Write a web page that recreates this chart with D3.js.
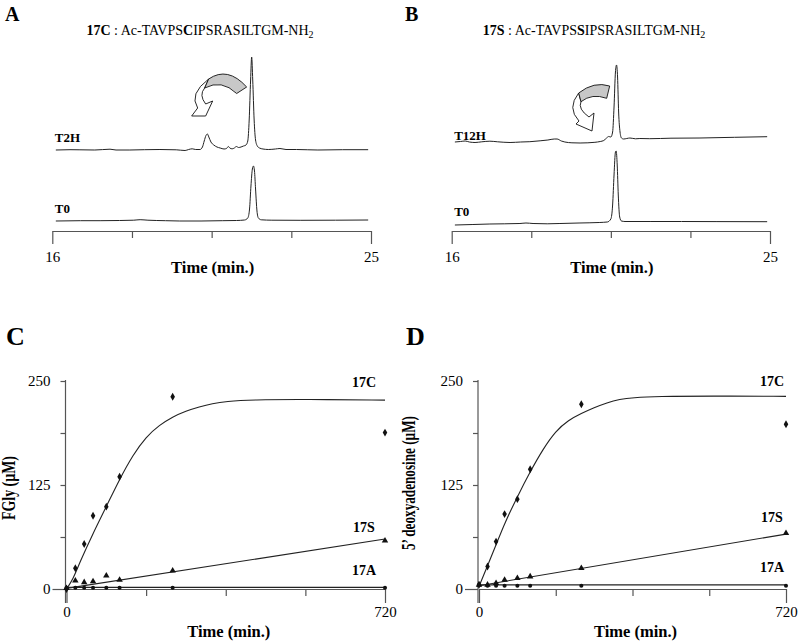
<!DOCTYPE html>
<html><head><meta charset="utf-8">
<script src="https://cdn.jsdelivr.net/npm/d3@7"></script>
<style>
body{margin:0;background:#fff}
svg{display:block}
text{font-family:"Liberation Serif","Times New Roman",serif;fill:#000}
</style>
</head><body>
<svg id="chart" width="800" height="644"></svg>
<script>
// ---------------- DATA ----------------
// HPLC chromatograms: [time (min), signal (a.u.)]
const chromTicks = [16, 18.25, 20.5, 22.75, 25];
const chromTickLabels = ["16", "", "", "", "25"];

const traceA_T2H = [[16.10,0],[16.5,0.3],[16.78,0.2],[17.2,0],[17.63,0.8],[17.8,0],[18.19,0],[18.6,0.3],[19.04,0.5],[19.5,0.2],[19.75,-0.5],[19.85,0.5],[19.95,1.2],[20.05,0.5],[20.17,0.5],[20.24,3],[20.29,9],[20.34,14.5],[20.38,16],[20.42,13],[20.48,8],[20.56,5],[20.65,3],[20.74,2],[20.85,1],[20.92,1.5],[20.97,3.5],[21.02,1.8],[21.08,1.2],[21.14,2],[21.2,3.5],[21.26,2.5],[21.33,3],[21.4,4],[21.47,5],[21.52,9],[21.56,30],[21.6,70],[21.63,93],[21.66,70],[21.7,30],[21.74,10],[21.79,4],[21.85,2],[21.95,1],[22.1,0.5],[22.3,1],[22.43,1.5],[22.6,0.5],[22.9,0.5],[23.5,0],[24.2,0.3],[24.92,0.3]];
const traceA_T0 = [[16.10,0],[16.8,0.3],[17.35,0.3],[17.9,0.5],[18.3,0.8],[18.48,1.3],[18.7,0.8],[19.2,0.3],[19.6,0],[20.2,0],[20.8,0.3],[21.2,0.5],[21.43,1],[21.52,3],[21.57,12],[21.61,35],[21.65,52],[21.68,55],[21.71,50],[21.74,32],[21.78,10],[21.82,3],[21.9,1.2],[22.2,0.8],[23.0,0.7],[24.0,0.8],[24.92,1]];
const traceB_T12H = [[16.09,0],[16.25,0.5],[16.38,1],[16.5,0],[16.66,-0.5],[16.85,0.2],[17.08,0.8],[17.3,0.2],[17.65,-0.5],[17.95,0],[18.21,0.3],[18.5,1.2],[18.72,2],[18.9,3],[18.98,3],[19.1,1],[19.2,0],[19.4,-0.8],[19.63,-1],[19.85,-0.8],[20.05,-0.3],[20.2,0.5],[20.3,1.5],[20.38,4],[20.44,5.5],[20.5,5],[20.55,10],[20.59,35],[20.63,70],[20.66,77],[20.69,65],[20.72,30],[20.76,10],[20.8,4],[20.86,3],[20.95,3.5],[21.04,4],[21.2,3.2],[21.32,3.5],[21.6,3.3],[22.2,3.8],[23.02,4],[24.0,4.7],[24.92,5.3]];
const traceB_T0 = [[16.09,0],[16.6,0.5],[17.08,1],[17.5,1.2],[17.93,1.5],[18.1,2],[18.3,1.5],[18.7,1.2],[19.06,1.5],[19.6,2],[20.17,2.5],[20.4,3],[20.5,6],[20.55,20],[20.59,50],[20.63,73],[20.65,74],[20.68,60],[20.71,30],[20.75,8],[20.8,4],[20.9,3.5],[21.61,3.5],[22.5,3.5],[23.5,3.4],[24.92,3.3]];

// Kinetics
const kinTimes = [0, 20, 40, 60, 90, 120, 240, 720];
const kinTicksX = [0, 180, 360, 540, 720];
const kinTickLabelsX = ["0", "", "", "", "720"];
const kinTicksY = [0, 62.5, 125, 187.5, 250];
const kinTickLabelsY = ["0", "", "125", "", "250"];

const fgly17C = [0, 25, 54, 88, 99, 135, 231, 188];
const fgly17S = [1, 10, 8, 9, 16, 11, 22, 58];
const fgly17A = [1.5, 1.5, 1.5, 1.5, 1.5, 1.5, 1.5, 1.5];
const fglyFitT = [0, 15, 30, 60, 90, 120, 150, 180, 210, 240, 270, 300, 330, 360, 420, 540, 720];
const fglyFit17C = [0, 12, 32, 67, 99, 132, 161, 183, 197, 207, 214, 219, 223, 225.5, 227.5, 228, 227];
const fitLineT = [0, 720];
const fglyFit17S = [0.8, 60];
const fglyFit17A = [2, 2];

const dA17C = [5, 27, 57, 90, 108, 144, 222, 198];
const dA17S = [5, 5, 7, 11, 13, 15, 25, 67];
const dA17A = [4.5, 4, 4, 4, 4, 4, 4, 4];
const dAFitT = [0, 20, 40, 60, 90, 120, 150, 180, 210, 240, 270, 300, 330, 360, 420, 540, 720];
const dAFit17C = [3, 28, 53, 79, 111, 141, 168, 190, 203, 211, 218, 224, 228, 230, 231.5, 232, 231.5];
const dAFit17S = [4, 66];
const dAFit17A = [5, 5];

// ---------------- DRAW ----------------
const svg = d3.select("#chart");
const axisColor = "#555";
const lineColor = "#222";

function panelLetter(x, y, txt, size) {
  svg.append("text").attr("x", x).attr("y", y).attr("font-size", size)
    .attr("font-weight", "bold").text(txt);
}

function title(cx, y, code, pre, bold, post) {
  const t = svg.append("text").attr("x", cx).attr("y", y).attr("text-anchor", "middle")
    .attr("font-size", 14);
  t.append("tspan").attr("font-weight", "bold").text(code);
  t.append("tspan").text(" : " + pre);
  t.append("tspan").attr("font-weight", "bold").text(bold);
  t.append("tspan").text(post);
  t.append("tspan").attr("font-size", 10).attr("dy", 3).text("2");
}

function drawChrom(cfg) {
  const x = d3.scaleLinear().domain([16, 25]).range(cfg.xRange);
  const g = svg.append("g");
  const ax = g.append("g").attr("transform", `translate(0,${cfg.axisY})`)
    .call(d3.axisBottom(x).tickValues(chromTicks).tickSize(7).tickSizeOuter(0)
      .tickFormat((d, i) => chromTickLabels[i]));
  ax.select(".domain").attr("stroke", axisColor).attr("stroke-width", 1.2);
  ax.selectAll(".tick line").attr("stroke", axisColor).attr("stroke-width", 1.2)
    .attr("y2", (d, i) => (i === 0 || i === chromTicks.length - 1) ? 13 : 7);
  ax.selectAll(".tick text").attr("y", 31).attr("dy", 0).attr("font-size", 15)
    .attr("font-family", "Liberation Serif, serif").attr("fill", "#000");
  g.append("text").attr("x", (cfg.xRange[0] + cfg.xRange[1]) / 2 + 1).attr("y", cfg.axisY + 42)
    .attr("text-anchor", "middle").attr("font-size", 16.5).attr("font-weight", "bold").text("Time (min.)");
  cfg.traces.forEach(tr => {
    const y = d3.scaleLinear().domain([0, 100]).range([tr.base, tr.base - 100]);
    const line = d3.line().x(d => x(d[0])).y(d => y(d[1])).curve(d3.curveMonotoneX);
    g.append("path").datum(tr.data).attr("d", line).attr("fill", "none")
      .attr("stroke", lineColor).attr("stroke-width", 1);
    g.append("text").attr("x", cfg.xRange[0] + 2.5).attr("y", tr.labelY).attr("font-size", 13)
      .attr("font-weight", "bold").text(tr.label);
  });
  const ax0 = x(cfg.arrow.t), ay0 = cfg.arrow.base;
  const ag = g.append("g").attr("transform", `translate(${ax0},${ay0})`);
  ag.append("path").attr("d", cfg.arrow.white).attr("fill", "#fff").attr("stroke", "#111").attr("stroke-width", 0.9);
  ag.append("path").attr("d", cfg.arrow.gray).attr("fill", "#c8c8c8").attr("stroke", "#111").attr("stroke-width", 0.9);
}

panelLetter(5, 21, "A", 20);
panelLetter(405, 21, "B", 20);
title(200, 35, "17C", "Ac-TAVPS", "C", "IPSRASILTGM-NH");
title(594, 35, "17S", "Ac-TAVPS", "S", "IPSRASILTGM-NH");

drawChrom({
  xRange: [52.3, 371], axisY: 231,
  traces: [
    {data: traceA_T2H, base: 150, label: "T2H", labelY: 142},
    {data: traceA_T0, base: 221, label: "T0", labelY: 213}
  ],
  arrow: {
    t: 21.63, base: 150,
    gray: "M-5,-63 Q-24,-84 -43,-71 L-47,-62 Q-30,-71 -15,-56.5 Z",
    white: "M-43,-71 Q-63,-56 -54,-42 L-60,-34 L-46,-34 L-39,-49 L-46,-46 Q-53,-55 -47,-62 Z"
  }
});
drawChrom({
  xRange: [451.7, 770], axisY: 231,
  traces: [
    {data: traceB_T12H, base: 142, label: "T12H", labelY: 139.5},
    {data: traceB_T0, base: 225, label: "T0", labelY: 216}
  ],
  arrow: {
    t: 20.665, base: 142,
    gray: "M-7,-56 L-10,-43.7 Q-24.7,-49 -35.7,-40.3 L-38,-49 Q-22.7,-61 -7,-56 Z",
    white: "M-38,-49 Q-50,-34 -37.7,-21 L-40.7,-18 L-24.7,-11 L-22.7,-29 L-27.7,-25 Q-39,-33 -35.7,-40.3 Z"
  }
});

function drawKin(cfg) {
  const x = d3.scaleLinear().domain([0, 720]).range(cfg.xRange);
  const y = d3.scaleLinear().domain([0, 250]).range([589, 381]);
  const g = svg.append("g");
  const axX = cfg.xRange[0] - 1;
  const ya = g.append("g").attr("transform", `translate(${axX},0)`)
    .call(d3.axisLeft(y).tickValues(kinTicksY).tickSize(5).tickSizeOuter(0)
      .tickFormat((d, i) => kinTickLabelsY[i]));
  ya.select(".domain").remove();
  ya.selectAll(".tick line").attr("stroke", axisColor).attr("stroke-width", 1.2)
    .attr("x2", d => d === 0 ? -13 : -5);
  ya.selectAll(".tick text").attr("x", -15).attr("font-size", 15)
    .attr("font-family", "Liberation Serif, serif").attr("fill", "#000");
  g.append("line").attr("x1", axX).attr("x2", axX).attr("y1", y(250) - 1).attr("y2", y(0) + 14)
    .attr("stroke", axisColor).attr("stroke-width", 1.2);
  const xa = g.append("g").attr("transform", `translate(0,${y(0)})`)
    .call(d3.axisBottom(x).tickValues(kinTicksX).tickSize(7).tickSizeOuter(0)
      .tickFormat((d, i) => kinTickLabelsX[i]));
  xa.select(".domain").attr("stroke", axisColor).attr("stroke-width", 1.2);
  xa.selectAll(".tick line").attr("stroke", axisColor).attr("stroke-width", 1.2)
    .attr("y2", d => (d === 0 || d === 720) ? 14 : 7);
  xa.selectAll(".tick text").attr("y", 28).attr("dy", 0).attr("font-size", 15)
    .attr("font-family", "Liberation Serif, serif").attr("fill", "#000");
  g.append("text").attr("x", (cfg.xRange[0] + cfg.xRange[1]) / 2 + 3).attr("y", 637)
    .attr("text-anchor", "middle").attr("font-size", 16.5).attr("font-weight", "bold").text("Time (min.)");
  g.append("text").attr("transform", `translate(${cfg.ylabX},${cfg.ylabY}) rotate(-90)`)
    .attr("text-anchor", "middle").attr("font-size", 18).attr("font-weight", "bold")
    .attr("textLength", cfg.ylabLen).attr("lengthAdjust", "spacingAndGlyphs").text(cfg.ylabel);
  const line = d3.line().x(d => x(d[0])).y(d => y(d[1]));
  cfg.fits.forEach(f => {
    g.append("path").datum(d3.zip(f.t, f.v)).attr("d", line.curve(f.smooth ? d3.curveBasis : d3.curveLinear))
      .attr("fill", "none").attr("stroke", lineColor).attr("stroke-width", f.w || 1.1);
  });
  cfg.series.forEach(s => {
    const sym = d3.symbol().type(s.type).size(s.size);
    g.append("g").selectAll("path").data(d3.zip(kinTimes, s.v)).join("path")
      .attr("transform", d => `translate(${x(d[0])},${y(d[1])})`)
      .attr("d", sym).attr("fill", "#111");
  });
  cfg.labels.forEach(l => {
    g.append("text").attr("x", x(720) + cfg.labDx).attr("y", y(l.v)).attr("text-anchor", "middle")
      .attr("font-size", 14).attr("font-weight", "bold").text(l.text);
  });
}

panelLetter(6, 345, "C", 26);
panelLetter(406, 345, "D", 26);

drawKin({
  xRange: [66.5, 385],
  ylabel: "FGly (µM)", ylabX: 15, ylabY: 488, ylabLen: 64, labDx: -21,
  fits: [
    {t: fglyFitT, v: fglyFit17C, smooth: true},
    {t: fitLineT, v: fglyFit17S},
    {t: fitLineT, v: fglyFit17A, w: 1.4}
  ],
  series: [
    {v: fgly17C, type: d3.symbolDiamond, size: 18},
    {v: fgly17S, type: d3.symbolTriangle, size: 18},
    {v: fgly17A, type: d3.symbolCircle, size: 13}
  ],
  labels: [{text: "17C", v: 242.8}, {text: "17S", v: 68.5}, {text: "17A", v: 16.8}]
});
drawKin({
  xRange: [479, 786],
  ylabel: "5’ deoxyadenosine (µM)", ylabX: 415, ylabY: 483, ylabLen: 134, labDx: -14,
  fits: [
    {t: dAFitT, v: dAFit17C, smooth: true},
    {t: fitLineT, v: dAFit17S},
    {t: fitLineT, v: dAFit17A, w: 1.4}
  ],
  series: [
    {v: dA17C, type: d3.symbolDiamond, size: 18},
    {v: dA17S, type: d3.symbolTriangle, size: 18},
    {v: dA17A, type: d3.symbolCircle, size: 13}
  ],
  labels: [{text: "17C", v: 244}, {text: "17S", v: 80.5}, {text: "17A", v: 20.4}]
});
</script>
</body></html>
